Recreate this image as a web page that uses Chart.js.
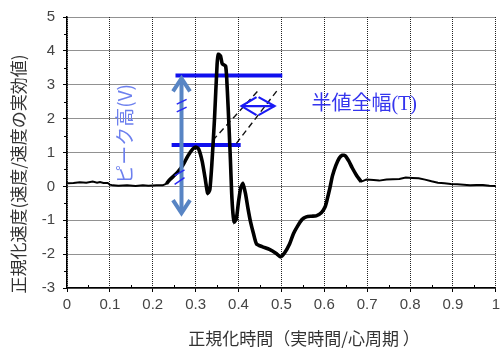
<!DOCTYPE html>
<html><head><meta charset="utf-8">
<script src="https://cdn.jsdelivr.net/npm/chart.js@4"></script>
<style>html,body{margin:0;padding:0;background:#fff}#c{display:block}</style>
</head><body>
<canvas id="c" width="504" height="350"></canvas>
<script>
// ---- data ----
const timeX = [0.000,0.015,0.030,0.045,0.060,0.070,0.077,0.085,0.095,0.100,0.107,0.120,0.140,0.160,0.177,0.190,0.209,0.223,0.232,0.240,0.250,0.258,0.270,0.282,0.293,0.300,0.307,0.315,0.322,0.328,0.333,0.338,0.344,0.350,0.353,0.358,0.362,0.370,0.374,0.378,0.381,0.384,0.387,0.390,0.395,0.400,0.405,0.410,0.416,0.422,0.428,0.435,0.442,0.455,0.472,0.488,0.498,0.508,0.519,0.528,0.537,0.548,0.558,0.570,0.581,0.593,0.602,0.607,0.613,0.619,0.627,0.635,0.642,0.649,0.657,0.665,0.675,0.686,0.692,0.698,0.715,0.728,0.745,0.760,0.775,0.790,0.805,0.820,0.835,0.850,0.865,0.880,0.895,0.910,0.925,0.940,0.955,0.970,0.985,1.000];
const velocityY = [0.09,0.10,0.12,0.11,0.14,0.11,0.13,0.10,0.10,0.05,0.03,0.02,0.03,0.01,0.03,0.02,0.03,0.03,0.08,0.20,0.32,0.42,0.62,0.90,1.10,1.16,1.10,0.75,0.25,-0.20,-0.10,0.70,2.00,3.60,3.90,3.85,3.62,3.55,2.80,1.70,0.80,-0.20,-0.80,-1.05,-0.95,-0.45,-0.05,0.08,-0.20,-0.65,-1.05,-1.40,-1.70,-1.78,-1.86,-1.98,-2.08,-1.95,-1.70,-1.40,-1.19,-0.98,-0.90,-0.88,-0.87,-0.78,-0.60,-0.37,-0.05,0.31,0.62,0.84,0.92,0.90,0.75,0.55,0.33,0.14,0.17,0.20,0.19,0.17,0.20,0.21,0.22,0.26,0.25,0.24,0.20,0.15,0.11,0.09,0.07,0.06,0.05,0.03,0.04,0.04,0.02,0.01];
const thickRange = [0.228, 0.69];
const xTickLabels = ['0','0.1','0.2','0.3','0.4','0.5','0.6','0.7','0.8','0.9','1'];
const yTickLabels = ['-3','-2','-1','0','1','2','3','4','5'];
// annotation geometry in data units
const peakLine = [[0.253,3.27],[0.502,3.27]];
const halfLine = [[0.244,1.22],[0.405,1.22]];
const dashA = [[0.340,1.36],[0.444,2.80]];
const dashB = [[0.395,1.27],[0.490,2.83]];
const heightArrow = [[0.267,-0.82],[0.267,3.22]];
const widthArrow = [[0.407,2.37],[0.484,2.37]];
const slashes = [[[0.256,2.43],[0.279,2.57]],[[0.256,2.20],[0.279,2.34]],[[0.251,0.32],[0.274,0.49]],[[0.251,0.06],[0.274,0.26]]];
const widthLabel = {text:'半値全幅(T)', x:0.570, y:2.40};
const heightLabel = {text:'ピーク高(V)', x:0.134, y:1.55};
const xTitle = '正規化時間（実時間/心周期 ）';
const yTitle = '正規化速度(速度/速度の実効値)';

const pts = (xs, ys) => xs.map((x,i)=>({x, y: ys[i]}));
const allPts = pts(timeX, velocityY);
const thickPts = allPts.filter(p => p.x >= thickRange[0] && p.x <= thickRange[1]);
const seg = (a, color, width, dash) => ({data: a.map(p=>({x:p[0],y:p[1]})), borderColor: color, borderWidth: width, borderDash: dash||[], pointRadius:0, fill:false, tension:0});

const annot = {
  id:'annot',
  afterDatasetsDraw(chart){
    const ctx = chart.ctx, xs = chart.scales.x, ys = chart.scales.y;
    const P = p => [xs.getPixelForValue(p[0]), ys.getPixelForValue(p[1])];
    ctx.save();
    // vertical double arrow
    let [ax, ay0] = P(heightArrow[0]); let [, ay1] = P(heightArrow[1]);
    ctx.strokeStyle = '#5885c4'; ctx.lineWidth = 4; ctx.lineCap='butt'; ctx.lineJoin='miter';
    ctx.beginPath(); ctx.moveTo(ax, ay0-2); ctx.lineTo(ax, ay1+2); ctx.stroke();
    ctx.beginPath(); ctx.moveTo(ax-8.5, ay1+14); ctx.lineTo(ax, ay1+1); ctx.lineTo(ax+8.5, ay1+14); ctx.stroke();
    ctx.beginPath(); ctx.moveTo(ax-8.5, ay0-14); ctx.lineTo(ax, ay0-1); ctx.lineTo(ax+8.5, ay0-14); ctx.stroke();
    // slashes
    ctx.strokeStyle = '#2a2af5'; ctx.lineWidth = 1.5;
    slashes.forEach(s => { const a=P(s[0]), b=P(s[1]); ctx.beginPath(); ctx.moveTo(a[0],a[1]); ctx.lineTo(b[0],b[1]); ctx.stroke(); });
    // horizontal double arrow (width)
    const w0 = P(widthArrow[0]), w1 = P(widthArrow[1]);
    ctx.strokeStyle = '#1a1af5'; ctx.lineWidth = 2.2;
    ctx.beginPath(); ctx.moveTo(w0[0], w0[1]); ctx.lineTo(w1[0], w1[1]); ctx.stroke();
    ctx.beginPath(); ctx.moveTo(w0[0]+15, w0[1]-9); ctx.lineTo(w0[0], w0[1]); ctx.lineTo(w0[0]+15, w0[1]+9); ctx.stroke();
    ctx.beginPath(); ctx.moveTo(w1[0]-16, w1[1]-9); ctx.lineTo(w1[0], w1[1]); ctx.lineTo(w1[0]-16, w1[1]+9); ctx.stroke();
    // labels
    const t = P([widthLabel.x, widthLabel.y]);
    ctx.fillStyle = '#3535ee'; ctx.font = '20px "Liberation Serif", "Noto Sans CJK JP"';
    ctx.textAlign='left'; ctx.textBaseline='middle';
    ctx.fillText(widthLabel.text, t[0], t[1]);
    const h = P([heightLabel.x, heightLabel.y]);
    ctx.save(); ctx.translate(h[0], h[1]); ctx.rotate(-Math.PI/2);
    ctx.fillStyle = '#6d80ee'; ctx.font = '19px "Noto Sans CJK JP"'; ctx.textAlign='center';
    ctx.fillText(heightLabel.text, 0, 0); ctx.restore();
    // minor ticks
    ctx.strokeStyle = '#000'; ctx.lineWidth = 1;
    const ca = chart.chartArea;
    for (let v = 0.05; v < 1; v += 0.1) { const px = Math.round(xs.getPixelForValue(v))+0.5; ctx.beginPath(); ctx.moveTo(px, ca.bottom); ctx.lineTo(px, ca.bottom-3); ctx.stroke(); }
    for (let v = -2.5; v < 5; v += 1) { const py = Math.round(ys.getPixelForValue(v))+0.5; ctx.beginPath(); ctx.moveTo(ca.left, py); ctx.lineTo(ca.left-3, py); ctx.stroke(); }
    // axis titles
    ctx.fillStyle = '#333'; ctx.font = '17px "Noto Sans CJK JP"'; ctx.textAlign='center'; ctx.textBaseline='middle';
    ctx.fillText(xTitle, 304, 339);
    ctx.save(); ctx.translate(19, 174); ctx.rotate(-Math.PI/2); ctx.fillText(yTitle, 0, 0); ctx.restore();
    ctx.restore();
  }
};

new Chart(document.getElementById('c'), {
  type:'line',
  data:{datasets:[
    {data: allPts, borderColor:'#000', borderWidth:2, pointRadius:0, tension:0, fill:false},
    {data: thickPts, borderColor:'#000', borderWidth:3.6, pointRadius:0, tension:0.2, fill:false},
    seg(dashA,'#111',1.4,[6,4]),
    seg(dashB,'#111',1.4,[6,4]),
    seg(peakLine,'#1010ee',4),
    seg(halfLine,'#1010ee',4)
  ]},
  options:{
    responsive:false, animation:false, events:[],
    layout:{padding:{top:14,right:7,left:0,bottom:0}},
    plugins:{legend:{display:false}, tooltip:{enabled:false}},
    scales:{
      x:{type:'linear', min:0, max:1,
        afterFit: s => { s.height = 62; },
        afterBuildTicks: s => { s.ticks = xTickLabels.map(l => ({value: parseFloat(l)})); },
        ticks:{callback:(v,i)=>xTickLabels[i], color:'#444', font:{family:'"Liberation Sans"', size:15}, padding:4, maxRotation:0, autoSkip:false},
        grid:{color:'#222', lineWidth:1, tickColor:'#000', tickLength:4},
        border:{color:'#000', width:1.5, dash:[1,1]}
      },
      y:{type:'linear', min:-3, max:5,
        afterFit: s => { s.width = 67; },
        afterBuildTicks: s => { s.ticks = yTickLabels.map(l => ({value: parseFloat(l)})); },
        ticks:{callback:(v,i)=>yTickLabels[i], color:'#444', font:{family:'"Liberation Sans"', size:15}, padding:8, autoSkip:false},
        grid:{color:'#222', lineWidth:1, tickColor:'#000', tickLength:4},
        border:{color:'#000', width:1.5, dash:[1,1]}
      }
    }
  },
  plugins:[annot]
});
</script>
</body></html>
